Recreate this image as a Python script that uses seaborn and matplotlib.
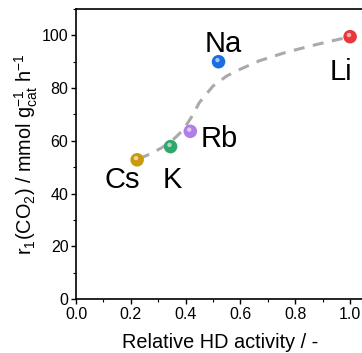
import matplotlib
matplotlib.use("Agg")
import matplotlib.pyplot as plt
import matplotlib.transforms as mtransforms
import seaborn as sns
import pandas as pd

# Alkali promoters: relative HD exchange activity vs. CO2 rate
metals = ["Li", "Na", "K", "Rb", "Cs"]
hd_activity = [1.00, 0.52, 0.345, 0.417, 0.223]
rate_co2 = [99.5, 90.0, 57.8, 63.6, 52.8]
colors = ["#e8383c", "#1c6ee0", "#2fa86c", "#b07ee4", "#c99a0e"]

# Guide-to-the-eye trend line
trend_x = [0.23, 0.27, 0.31, 0.35, 0.39, 0.42, 0.45, 0.50, 0.55, 0.60, 0.67, 0.77, 0.88, 1.00]
trend_y = [53.2, 55.0, 57.2, 60.0, 64.0, 68.8, 74.5, 80.8, 84.6, 87.2, 90.4, 93.7, 96.6, 99.5]

# Label anchor points (baseline centre, data units)
label_x = [0.966, 0.538, 0.350, 0.522, 0.167]
label_y = [83.0, 93.7, 42.1, 57.8, 42.1]

x_ticks = [0.0, 0.2, 0.4, 0.6, 0.8, 1.0]
y_ticks = [0, 20, 40, 60, 80, 100]

sns.set_style("ticks", {"text.color": "black", "axes.labelcolor": "black",
                        "xtick.color": "black", "ytick.color": "black",
                        "axes.edgecolor": "black"})
plt.rcParams["font.family"] = ["Liberation Sans", "DejaVu Sans"]
plt.rcParams["mathtext.fontset"] = "custom"
plt.rcParams["mathtext.rm"] = "Liberation Sans"
plt.rcParams["mathtext.it"] = "Liberation Sans:italic"
plt.rcParams["mathtext.bf"] = "Liberation Sans:bold"

fig = plt.figure(figsize=(3.62, 3.53), dpi=100)
ax = fig.add_axes([0.210, 0.153, 0.795, 0.8215])

df = pd.DataFrame({"metal": metals, "hd": hd_activity, "rate": rate_co2})
trend = pd.DataFrame({"x": trend_x, "y": trend_y})

sns.lineplot(data=trend, x="x", y="y", ax=ax, color="#aaaaaa", lw=2.2,
             linestyle=(0, (3.6, 2.8)), zorder=2, sort=True)

sns.scatterplot(data=df, x="hd", y="rate", hue="metal", palette=colors,
                s=95, edgecolor="none", legend=False, ax=ax, zorder=3)

# Specular highlight to give the markers a glossy sphere look
hl = mtransforms.offset_copy(ax.transData, fig=fig, x=-0.8, y=1.2, units="points")
ax.scatter(hd_activity, rate_co2, s=10, color="white", alpha=0.6,
           edgecolor="none", transform=hl, zorder=4)

for name, lx, ly in zip(metals, label_x, label_y):
    ax.text(lx, ly, name, ha="center", va="baseline", fontsize=21, color="black")

ax.set_xlim(0, 1.05)
ax.set_ylim(0, 110)
ax.set_xticks(x_ticks)
ax.set_yticks(y_ticks)
ax.set_xticklabels([f"{v:.1f}" for v in x_ticks])
ax.set_yticklabels([str(v) for v in y_ticks])
ax.set_xticks([0.1, 0.3, 0.5, 0.7, 0.9], minor=True)
ax.set_yticks([10, 30, 50, 70, 90, 110], minor=True)
ax.tick_params(which="major", direction="out", length=3.5, width=1, labelsize=11.5,
               pad=2, colors="black")
ax.tick_params(which="minor", direction="out", length=2, width=0.8, colors="black")

for side in ["left", "bottom", "top"]:
    ax.spines[side].set_linewidth(1.2)
    ax.spines[side].set_color("black")
ax.spines["right"].set_visible(False)

ax.set_xlabel("Relative HD activity / -", fontsize=14.3, labelpad=8, color="black")
ax.set_ylabel(r"r$_1$(CO$_2$) / mmol g$_{\rm cat}^{-1}$ h$^{-1}$", fontsize=14.3,
              labelpad=1.5, color="black")

fig.savefig("out.png", dpi=100)
